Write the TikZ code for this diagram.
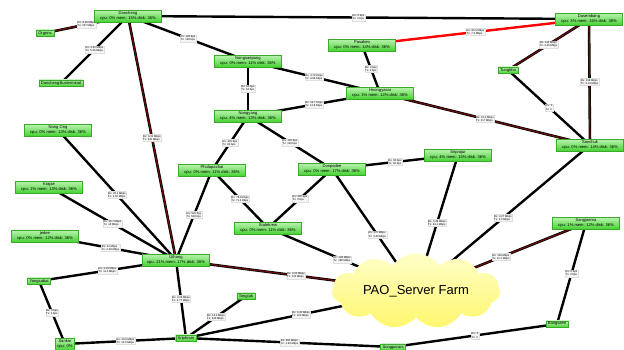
\documentclass[tikz,border=0pt]{standalone}
\usepackage{fontspec}
\setmainfont{Liberation Sans}
\usetikzlibrary{shapes.symbols,backgrounds}
\definecolor{boxtop}{RGB}{185,242,175}
\definecolor{boxbot}{RGB}{72,212,52}
\definecolor{hotcore}{RGB}{105,12,12}
\definecolor{cloudtop}{RGB}{255,255,200}
\definecolor{cloudbot}{RGB}{255,246,110}
\newcommand{\rxtx}[2]{Rx: #1\\Tx: #2}
\newcommand{\usage}[3]{cpu: #1\% mem: #2\% disk: #3\%}

\tikzset{
  site/.style={top color=boxtop, bottom color=boxbot, draw=boxbot!80!black, line width=0.2pt,
    font=\fontsize{4.1}{5.1}\selectfont, align=center, inner xsep=2pt, inner ysep=1.3pt},
  bigsite/.style={site, minimum width=67pt},
  lnk/.style={draw=black, line width=2.4pt},
  lnkhot/.style={draw=black, line width=0.7pt, double=hotcore, double distance=1.2pt},
  lnkred/.style={draw=red, line width=2.4pt},
  lbl/.style={midway, fill=gray!8, draw=gray!25, line width=0.1pt,
    font=\fontsize{2.7}{3.2}\selectfont, align=left, inner sep=0.6pt}
}

\begin{document}
\begin{tikzpicture}[x=1pt,y=-1pt]
  \useasboundingbox (0,0) rectangle (624,349);
  \clip (0,0) rectangle (624,349);
  % sites
  \node[bigsite] (dancheng) at (128,16) {Dancheng\\\usage{0}{15}{36}};
  \node[site] (orgons) at (45,33) {Orgons};
  \node[site] (busterm) at (61,83) {DanchengBusterminal};
  \node[bigsite] (nongsaepung) at (248,61) {Nongsaepung\\\usage{0}{11}{36}};
  \node[bigsite] (pasakeo) at (362,45) {Pasakeo\\\usage{0}{14}{36}};
  \node[bigsite] (hnongyasai) at (380,93) {Hnongyasai\\\usage{1}{12}{36}};
  \node[bigsite] (nongyang) at (248,116) {Nongyang\\\usage{4}{13}{36}};
  \node[bigsite] (dasembang) at (589,19) {Dasembang\\\usage{3}{16}{38}};
  \node[site] (tungkho) at (508,70) {Tungkho};
  \node[bigsite] (sanchuk) at (590,145) {Sanchuk\\\usage{0}{14}{36}};
  \node[bigsite] (nongong) at (58,130) {Nong Ong\\\usage{0}{13}{36}};
  \node[bigsite] (krajae) at (49,187) {Krajae\\\usage{1}{13}{36}};
  \node[bigsite] (jedee) at (45,236) {jedee\\\usage{0}{12}{36}};
  \node[bigsite] (phulapachai) at (212,170) {Phulapachai\\\usage{0}{11}{36}};
  \node[bigsite] (donpodee) at (332,169) {Donpodee\\\usage{0}{17}{36}};
  \node[bigsite] (sralekrew) at (268,228) {Sralekrew\\\usage{0}{11}{36}};
  \node[bigsite] (sriprajur) at (458,155) {Sriprajur\\\usage{4}{15}{36}};
  \node[bigsite] (uthong) at (176,260) {Uthong\\\usage{21}{17}{36}};
  \node[site] (yongsabai) at (39,281) {Yongsabai};
  \node[site] (sankor) at (65,344) {Sankor\\cpu: 0\%};
  \node[site] (sriphrom) at (186,338) {Sriphrom};
  \node[site] (tongtak) at (246,296) {Tongtak};
  \node[site] (songporani) at (393,347) {Songporani};
  \node[bigsite] (sangjaema) at (586,223) {Sangjaema\\\usage{1}{12}{36}};
  \node[site] (bangsaen) at (557,324) {Bangsaen};
  \node[cloud, cloud puffs=11, cloud puff arc=110, aspect=2.7, minimum width=168pt, minimum height=62pt,
    inner sep=0pt, top color=cloudtop, bottom color=cloudbot, font=\fontsize{13}{15}\selectfont]
    (farm) at (416,291) {PAO\_Server Farm};

  % links
  \begin{scope}[on background layer]
    \draw[lnk] (dancheng.center) -- (dasembang.center) node[lbl]{\rxtx{0 bps}{0 bps}};
    \draw[lnkhot] (dancheng.center) -- (orgons.center) node[lbl]{\rxtx{8.26 Mbps}{247 Mbps}};
    \draw[lnk] (dancheng.center) -- (busterm.center) node[lbl]{\rxtx{3.22 Mbps}{5.36 Mbps}};
    \draw[lnk] (dancheng.center) -- (nongsaepung.center) node[lbl]{\rxtx{128 bps}{128 bps}};
    \draw[lnkhot] (dancheng.center) -- (uthong.center) node[lbl]{\rxtx{0.31 Mbps}{241 Mbps}};
    \draw[lnkred] (pasakeo.center) -- (dasembang.center) node[lbl]{\rxtx{95.9 Mbps}{7.3 Mbps}};
    \draw[lnk] (pasakeo.center) -- (hnongyasai.center) node[lbl]{\rxtx{0 bps}{0 bps}};
    \draw[lnk] (nongsaepung.center) -- (hnongyasai.center) node[lbl]{\rxtx{3.72 Kbps}{4.96 Kbps}};
    \draw[lnk] (nongsaepung.center) -- (nongyang.center) node[lbl]{\rxtx{64 bps}{64 bps}};
    \draw[lnk] (nongyang.center) -- (hnongyasai.center) node[lbl]{\rxtx{12.7 Kbps}{12.8 Kbps}};
    \draw[lnkhot] (hnongyasai.center) -- (sanchuk.center) node[lbl]{\rxtx{15.0 Mbps}{217 Mbps}};
    \draw[lnkhot] (dasembang.center) -- (tungkho.center) node[lbl]{\rxtx{144 Mbps}{2.15 Mbps}};
    \draw[lnkhot] (dasembang.center) -- (sanchuk.center) node[lbl]{\rxtx{336 Mbps}{2.14 Mbps}};
    \draw[lnk] (tungkho.center) -- (sanchuk.center) node[lbl]{\rxtx{0}{0}};
    \draw[lnk] (nongyang.center) -- (phulapachai.center) node[lbl]{\rxtx{400 bps}{80 bps}};
    \draw[lnk] (nongyang.center) -- (donpodee.center) node[lbl]{\rxtx{120 bps}{120 bps}};
    \draw[lnk] (donpodee.center) -- (sriprajur.center) node[lbl]{\rxtx{80 bps}{80 bps}};
    \draw[lnk] (phulapachai.center) -- (sralekrew.center) node[lbl]{\rxtx{76.8 Kbps}{71.4 Kbps}};
    \draw[lnk] (donpodee.center) -- (sralekrew.center) node[lbl]{\rxtx{960 bps}{0 bps}};
    \draw[lnk] (donpodee.center) -- (farm.center) node[lbl,pos=0.54]{\rxtx{270 Mbps}{3.40 Mbps}};
    \draw[lnk] (phulapachai.center) -- (uthong.center) node[lbl]{\rxtx{520 bps}{520 bps}};
    \draw[lnk] (sriprajur.center) -- (farm.center) node[lbl]{\rxtx{0.48 Mbps}{94.1 Mbps}};
    \draw[lnk] (sanchuk.center) -- (farm.center) node[lbl]{\rxtx{4.27 Mbps}{2.6 Mbps}};
    \draw[lnkhot] (sangjaema.center) -- (farm.center) node[lbl]{\rxtx{128 Mbps}{11.1 Mbps}};
    \draw[lnk] (sangjaema.center) -- (bangsaen.center) node[lbl]{\rxtx{0 bps}{0 bps}};
    \draw[lnk] (bangsaen.center) -- (songporani.center) node[lbl]{\rxtx{0}{0}};
    \draw[lnk] (sralekrew.center) -- (farm.center) node[lbl]{\rxtx{128 Mbps}{186 Mbps}};
    \draw[lnkhot] (uthong.center) -- (farm.center) node[lbl]{\rxtx{3.20 Mbps}{130 Mbps}};
    \draw[lnk] (nongong.center) -- (uthong.center) node[lbl]{\rxtx{36.1 Mbps}{3.30 Mbps}};
    \draw[lnk] (krajae.center) -- (uthong.center) node[lbl]{\rxtx{30.7 Mbps}{18 Mbps}};
    \draw[lnk] (jedee.center) -- (uthong.center) node[lbl]{\rxtx{31 Mbps}{2.28 Mbps}};
    \draw[lnk] (yongsabai.center) -- (uthong.center) node[lbl]{\rxtx{3.16 Mbps}{11.0 Mbps}};
    \draw[lnk] (yongsabai.center) -- (sankor.center) node[lbl]{\rxtx{0 bps}{0 bps}};
    \draw[lnk] (sankor.center) -- (sriphrom.center) node[lbl]{\rxtx{20.9 Mbps}{10.0 Mbps}};
    \draw[lnk] (uthong.center) -- (sriphrom.center) node[lbl]{\rxtx{4.09 Mbps}{3.77 Mbps}};
    \draw[lnk] (sriphrom.center) -- (tongtak.center) node[lbl]{\rxtx{14.2 Mbps}{243 Mbps}};
    \draw[lnk] (sriphrom.center) -- (farm.center) node[lbl]{\rxtx{0.40 Mbps}{120 Mbps}};
    \draw[lnk] (sriphrom.center) -- (songporani.center) node[lbl]{\rxtx{380 Mbps}{1.93 Mbps}};
  \end{scope}
\end{tikzpicture}
\end{document}
